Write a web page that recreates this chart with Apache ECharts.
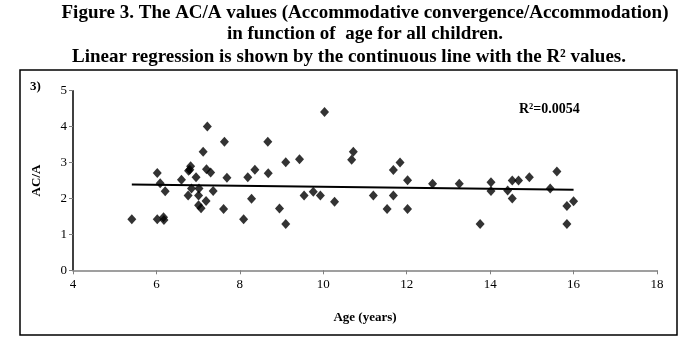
<!DOCTYPE html>
<html><head><meta charset="utf-8">
<script src="https://cdn.jsdelivr.net/npm/echarts@6/dist/echarts.min.js"></script>
<style>html,body{margin:0;padding:0;background:#fff}#c{width:693px;height:354px}</style>
</head><body><div id="c"></div>
<script>
const titleLines = [
  'Figure 3. The AC/A values (Accommodative convergence/Accommodation)',
  'in function of  age for all children.',
  'Linear regression is shown by the continuous line with the R\u00B2 values.'
];
const panelLabel = '3)';
const xAxisName = 'Age (years)';
const yAxisName = 'AC/A';
const r2Label = 'R\u00B2=0.0054';

const ages = [5.41, 6.02, 6.17, 6.18, 6.02, 6.09, 6.21, 6.60, 6.77, 6.80, 6.82, 6.84, 6.76, 6.95, 7.02, 7.01, 7.01, 7.07, 7.12, 7.19, 7.20, 7.22, 7.30, 7.36, 7.61, 7.63, 7.69, 8.09, 8.19, 8.28, 8.36, 8.67, 8.68, 8.95, 9.10, 9.10, 9.43, 9.54, 9.76, 9.93, 10.03, 10.27, 10.68, 10.72, 11.20, 11.53, 11.68, 11.68, 11.84, 12.02, 12.02, 12.62, 13.26, 13.76, 14.02, 14.02, 14.42, 14.53, 14.53, 14.68, 14.94, 15.44, 15.60, 15.84, 15.84, 16.00];
const acaValues = [1.42, 1.42, 1.48, 1.40, 2.71, 2.42, 2.20, 2.52, 2.77, 2.80, 2.90, 2.28, 2.08, 2.59, 2.28, 2.08, 1.81, 1.73, 3.30, 1.93, 2.81, 4.00, 2.72, 2.21, 1.71, 3.58, 2.58, 1.42, 2.59, 1.99, 2.80, 3.58, 2.70, 1.72, 3.01, 1.29, 3.09, 2.08, 2.19, 2.08, 4.41, 1.91, 3.08, 3.30, 2.08, 1.71, 2.08, 2.79, 3.00, 2.51, 1.71, 2.41, 2.41, 1.29, 2.45, 2.21, 2.22, 2.50, 2.00, 2.50, 2.59, 2.28, 2.75, 1.79, 1.29, 1.92];

// regression line
const trendIntercept = 2.457;
const trendSlope = -0.0132;

const xMin = 4, xMax = 18, xStep = 2;
const yMin = 0, yMax = 5, yStep = 1;

const points = ages.map((a, i) => [a, acaValues[i]]);
const ageLo = Math.min(...ages), ageHi = Math.max(...ages);
const trend = [ageLo, ageHi].map(a => [a, trendIntercept + trendSlope * a]);

const serif = '"Liberation Serif", "Times New Roman", serif';
const titleStyle = {fontFamily: serif, fontSize: 19, lineHeight: 19, fontWeight: 'bold', color: '#000'};
const chart = echarts.init(document.getElementById('c'), null, {renderer: 'canvas'});
chart.setOption({
  animation: false,
  backgroundColor: '#fff',
  title: [
    {text: titleLines[0], left: 365, top: 4, textAlign: 'center', padding: 0, textStyle: titleStyle},
    {text: titleLines[1], left: 365, top: 25, textAlign: 'center', padding: 0, textStyle: titleStyle},
    {text: titleLines[2], left: 349, top: 48, textAlign: 'center', padding: 0, textStyle: titleStyle}
  ],
  graphic: [
    {type: 'rect', shape: {x: 20, y: 70, width: 657, height: 265},
     style: {fill: 'none', stroke: '#000', lineWidth: 1.5}, silent: true},
    {type: 'text', left: 30, top: 80,
     style: {text: panelLabel, fontFamily: serif, fontSize: 13, fontWeight: 'bold', fill: '#000'}},
    {type: 'text', left: 519, top: 102,
     style: {text: r2Label, fontFamily: serif, fontSize: 14, fontWeight: 'bold', fill: '#000'}}
  ],
  grid: {left: 73, right: 36, top: 90.7, bottom: 83.7, containLabel: false},
  xAxis: {
    type: 'value', min: xMin, max: xMax, interval: xStep,
    name: xAxisName, nameLocation: 'middle', nameGap: 41,
    nameTextStyle: {fontFamily: serif, fontSize: 13, fontWeight: 'bold', color: '#000'},
    axisLine: {show: true, onZero: false, lineStyle: {color: '#808080', width: 1.5}},
    axisTick: {show: true, inside: false, length: 4, lineStyle: {color: '#808080'}},
    axisLabel: {fontFamily: serif, fontSize: 13, color: '#000', margin: 8},
    splitLine: {show: false}
  },
  yAxis: {
    type: 'value', min: yMin, max: yMax, interval: yStep,
    name: yAxisName, nameLocation: 'middle', nameGap: 30, nameRotate: 90,
    nameTextStyle: {fontFamily: serif, fontSize: 13, fontWeight: 'bold', color: '#000'},
    axisLine: {show: true, onZero: false, lineStyle: {color: '#000', width: 1.5}},
    axisTick: {show: true, inside: false, length: 4, lineStyle: {color: '#808080'}},
    axisLabel: {fontFamily: serif, fontSize: 13, color: '#000', margin: 6},
    splitLine: {show: false}
  },
  series: [
    {type: 'line', data: trend, symbol: 'none', silent: true,
     lineStyle: {color: '#000', width: 2}, z: 1},
    {type: 'scatter', data: points, symbol: 'diamond', symbolSize: [9, 10],
     itemStyle: {color: '#000'}, z: 2}
  ]
});
</script></body></html>
